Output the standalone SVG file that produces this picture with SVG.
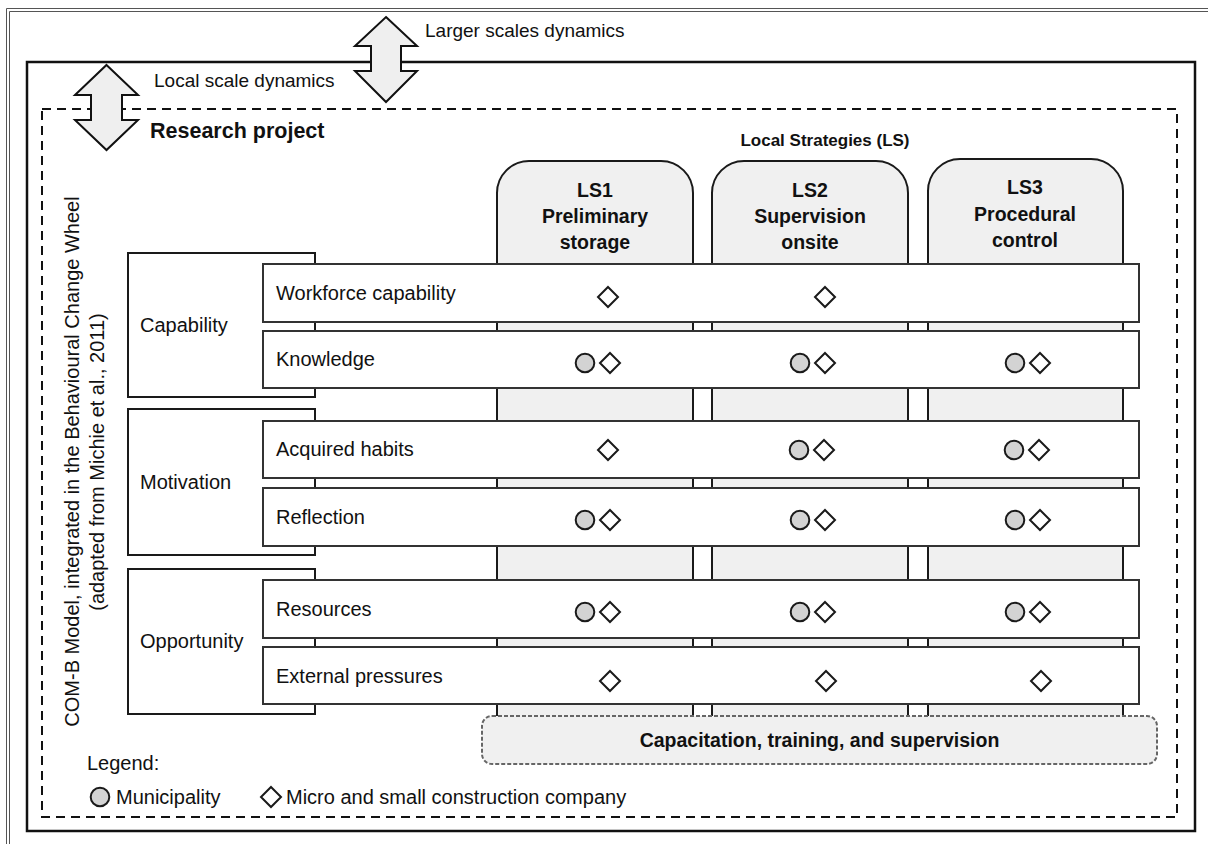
<svg xmlns="http://www.w3.org/2000/svg" width="1208" height="844" viewBox="0 0 1208 844">
  <defs>
    <style>
      .t { font-family: "Liberation Sans", Arial, sans-serif; font-size: 20px; fill: #111; }
      .top { font-size: 19px; }
      .b { font-weight: bold; }
      .ls { font-family: "Liberation Sans", Arial, sans-serif; font-size: 19.5px; font-weight: bold; fill: #111; text-anchor: middle; }
      .col { fill: #f0f0f0; stroke: #1a1a1a; stroke-width: 2; }
      .cat { fill: #fff; stroke: #1a1a1a; stroke-width: 2; }
      .row { fill: #fff; stroke: #333; stroke-width: 2; }
      .circ { fill: #d3d3d3; stroke: #1a1a1a; stroke-width: 2; }
      .dia { fill: #fff; stroke: #1a1a1a; stroke-width: 2; }
      .arrow { fill: #efefef; stroke: #111; stroke-width: 2; stroke-linejoin: miter; }
    </style>
    <circle id="m" r="9.3" class="circ"/>
    <polygon id="d" points="0,-10 10,0 0,10 -10,0" class="dia"/>
  </defs>
  <rect width="1208" height="844" fill="#fff"/>

  <!-- outer double frame -->
  <g id="outer-frame" fill="none" stroke="#555" stroke-width="1">
    <path d="M6.5,844 V8.5 H1208"/>
    <path d="M9.5,844 V11.5 H1208"/>
  </g>

  <!-- larger scale frame -->
  <rect id="larger-scale" x="27" y="62" width="1168" height="769" fill="none" stroke="#111" stroke-width="2.5"/>
  <text class="t top" x="425" y="37">Larger scales dynamics</text>

  <!-- local scale / research project dashed frame -->
  <rect id="research-project" x="42" y="109" width="1135" height="708" fill="none" stroke="#111" stroke-width="2" stroke-dasharray="9 6"/>
  <text class="t top" x="154" y="87">Local scale dynamics</text>
  <text class="t b" x="150" y="138" style="font-size:21.5px">Research project</text>

  <text class="t b" x="825" y="146" text-anchor="middle" style="font-size:17px">Local Strategies (LS)</text>

  <!-- vertical COM-B label -->
  <g id="comb-label">
    <text class="t" transform="translate(79,461.5) rotate(-90)" text-anchor="middle">COM-B Model, integrated in the Behavioural Change Wheel</text>
    <text class="t" transform="translate(104,462) rotate(-90)" text-anchor="middle">(adapted from Michie et al., 2011)</text>
  </g>

  <!-- local strategy columns -->
  <g id="LS1">
    <path class="col" d="M497,740 V193 A32,32 0 0 1 529,161 H661 A32,32 0 0 1 693,193 V740 Z"/>
    <text class="ls" x="595" y="197">LS1</text>
    <text class="ls" x="595" y="223">Preliminary</text>
    <text class="ls" x="595" y="249">storage</text>
  </g>
  <g id="LS2">
    <path class="col" d="M712,740 V193 A32,32 0 0 1 744,161 H876 A32,32 0 0 1 908,193 V740 Z"/>
    <text class="ls" x="810" y="197">LS2</text>
    <text class="ls" x="810" y="223">Supervision</text>
    <text class="ls" x="810" y="249">onsite</text>
  </g>
  <g id="LS3">
    <path class="col" d="M928,740 V191 A32,32 0 0 1 960,159 H1091 A32,32 0 0 1 1123,191 V740 Z"/>
    <text class="ls" x="1025" y="194">LS3</text>
    <text class="ls" x="1025" y="221">Procedural</text>
    <text class="ls" x="1025" y="247">control</text>
  </g>

  <!-- COM-B categories -->
  <g id="capability">
    <rect class="cat" x="128" y="253" width="187" height="144"/>
    <text class="t" x="140" y="332">Capability</text>
  </g>
  <g id="motivation">
    <rect class="cat" x="128" y="409" width="187" height="146"/>
    <text class="t" x="140" y="489">Motivation</text>
  </g>
  <g id="opportunity">
    <rect class="cat" x="128" y="569" width="187" height="145"/>
    <text class="t" x="140" y="648">Opportunity</text>
  </g>

  <!-- rows -->
  <g id="row-workforce">
    <rect class="row" x="263" y="264" width="876" height="58"/>
    <text class="t" x="276" y="300">Workforce capability</text>
    <use href="#d" x="608" y="297"/>
    <use href="#d" x="825" y="297"/>
  </g>
  <g id="row-knowledge">
    <rect class="row" x="263" y="331" width="876" height="57"/>
    <text class="t" x="276" y="366">Knowledge</text>
    <use href="#m" x="585" y="363"/><use href="#d" x="610" y="363"/>
    <use href="#m" x="800" y="363"/><use href="#d" x="825" y="363"/>
    <use href="#m" x="1015" y="363"/><use href="#d" x="1040" y="363"/>
  </g>
  <g id="row-habits">
    <rect class="row" x="263" y="421" width="876" height="57"/>
    <text class="t" x="276" y="456">Acquired habits</text>
    <use href="#d" x="608" y="450"/>
    <use href="#m" x="799" y="450"/><use href="#d" x="824" y="450"/>
    <use href="#m" x="1014" y="450"/><use href="#d" x="1039" y="450"/>
  </g>
  <g id="row-reflection">
    <rect class="row" x="263" y="488" width="876" height="58"/>
    <text class="t" x="276" y="524">Reflection</text>
    <use href="#m" x="585" y="520"/><use href="#d" x="610" y="520"/>
    <use href="#m" x="800" y="520"/><use href="#d" x="825" y="520"/>
    <use href="#m" x="1015" y="520"/><use href="#d" x="1040" y="520"/>
  </g>
  <g id="row-resources">
    <rect class="row" x="263" y="580" width="876" height="58"/>
    <text class="t" x="276" y="616">Resources</text>
    <use href="#m" x="585" y="612"/><use href="#d" x="610" y="612"/>
    <use href="#m" x="800" y="612"/><use href="#d" x="825" y="612"/>
    <use href="#m" x="1015" y="612"/><use href="#d" x="1040" y="612"/>
  </g>
  <g id="row-external">
    <rect class="row" x="263" y="647" width="876" height="57"/>
    <text class="t" x="276" y="683">External pressures</text>
    <use href="#d" x="610" y="681"/>
    <use href="#d" x="826" y="681"/>
    <use href="#d" x="1041" y="681"/>
  </g>

  <!-- capacitation -->
  <g id="capacitation">
    <rect x="482" y="716" width="675" height="48" rx="10" fill="#f0f0f0" stroke="#666" stroke-width="2" stroke-dasharray="4 2"/>
    <text class="ls" x="819.5" y="747">Capacitation, training, and supervision</text>
  </g>

  <!-- legend -->
  <g id="legend">
    <text class="t" x="87" y="770">Legend:</text>
    <use href="#m" x="100" y="797"/>
    <text class="t" x="116" y="804">Municipality</text>
    <use href="#d" x="271" y="797"/>
    <text class="t" x="286" y="804">Micro and small construction company</text>
  </g>

  <!-- scale dynamics double arrows -->
  <g id="connectors">
    <polygon id="arrow-larger" class="arrow" points="386,17 417,46 401,46 401,71 417,71 386,102 355,71 371,71 371,46 355,46"/>
    <polygon id="arrow-local" class="arrow" points="106.5,65 138,95 122,95 122,120 138,120 106.5,150 75,120 91,120 91,95 75,95"/>
  </g>
</svg>
